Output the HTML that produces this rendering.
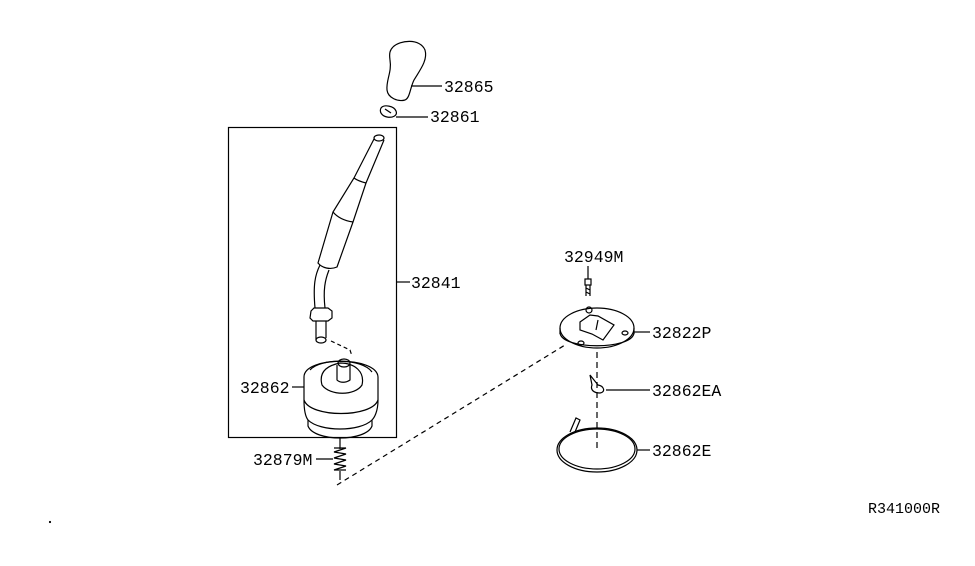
<!DOCTYPE html>
<html><head><meta charset="utf-8"><style>
html,body{margin:0;padding:0;background:#fff;}
svg{display:block}
text{font-family:"Liberation Mono",monospace;font-size:16.5px;fill:#000}
</style></head><body>
<svg width="975" height="566" viewBox="0 0 975 566" xmlns="http://www.w3.org/2000/svg" fill="none" stroke="#000" stroke-width="1.2">
<!-- knob -->
<path d="M393,47 C400,40 420,38 425,50 C428,60 420,70 414,80 C410,88 410,98 405,100 C398,102 388,98 387,90 C386,80 392,72 390,60 C389,53 390,50 393,47 Z"/>
<line x1="411" y1="86" x2="442" y2="86"/>
<text x="444" y="92" stroke="none">32865</text>
<!-- washer -->
<path d="M381,108 C384,104 394,106 396,111 C398,116 392,118 387,117 C382,116 379,112 381,108 Z"/>
<path d="M385,109 L391,113"/>
<line x1="396" y1="117" x2="428" y2="117"/>
<text x="430" y="122" stroke="none">32861</text>
<!-- box -->
<rect x="228.5" y="127.5" width="168" height="310"/>
<line x1="397" y1="282" x2="410" y2="282"/>
<text x="411" y="288" stroke="none">32841</text>
<!-- lever -->
<ellipse cx="379" cy="138" rx="5" ry="3"/>
<path d="M374,139 L354,178 L333,212 L318,263 C322,268 330,270 337,267 L353,222 L366,183 L384,140"/>
<path d="M354,178 C358,181 362,182 366,183"/>
<path d="M333,212 C338,218 346,221 353,222"/>
<path d="M320,265 C315,275 313,285 315,308 M329,270 C325,280 323,290 325,308"/>
<path d="M311,311 L314,308 L328,308 L332,311 L332,318 L328,321 L313,321 L310,318 Z"/>
<path d="M316,321 L316,340 M326,321 L326,338"/>
<ellipse cx="321" cy="340" rx="5" ry="3"/>
<path d="M331,341 L350,350 L352,356" stroke-dasharray="4,3"/>
<!-- boot -->
<path d="M304,377 C304,356 377,356 378,377 L378,400 C378,412 374,418 372,420 L372,426 C366,442 314,442 308,426 L308,420 C305,416 304,410 304,400 Z"/>
<path d="M304,400 C310,418 372,418 378,400"/>
<path d="M308,420 C320,432 360,432 372,420"/>
<path d="M310,370 C320,358 362,358 372,372"/>
<path d="M322,385 C318,370 330,365 340,363 C355,363 365,372 362,385 C355,396 330,396 322,385 Z"/>
<path d="M337,365 L337,380 C340,383 346,383 350,380 L350,365"/>
<ellipse cx="344" cy="363" rx="6" ry="4"/>
<line x1="292" y1="387" x2="304" y2="387"/>
<text x="240" y="393" stroke="none">32862</text>
<!-- spring -->
<line x1="340" y1="437" x2="340" y2="449"/>
<path d="M334,448 L346,448 L334,452 L346,454 L334,458 L346,460 L334,464 L346,466 L334,470 L346,470"/>
<line x1="340" y1="471" x2="340" y2="480"/>
<line x1="316" y1="459" x2="333" y2="459"/>
<text x="253" y="465" stroke="none">32879M</text>
<path d="M337,485 L565,345" stroke-dasharray="5,4"/>
<!-- bolt -->
<line x1="588" y1="266" x2="588" y2="279"/>
<rect x="585" y="279" width="6" height="6"/>
<path d="M586,285 L586,296 M590,285 L590,296 M586,288 L590,290 M586,292 L590,294"/>
<text x="564" y="262" stroke="none">32949M</text>
<!-- plate -->
<ellipse cx="597" cy="328" rx="37" ry="20"/>
<path d="M560,333 C562,350 632,350 634,333"/>
<line x1="560" y1="328" x2="560" y2="334"/><line x1="634" y1="328" x2="634" y2="334"/>
<circle cx="589" cy="310" r="3"/>
<path d="M580,322 L590,315 L598,316 L614,325 L603,340 L592,334 L580,330 Z"/>
<path d="M596,330 L598,320"/>
<ellipse cx="581" cy="343" rx="3" ry="2"/>
<ellipse cx="625" cy="333" rx="3" ry="2"/>
<line x1="634" y1="332" x2="650" y2="332"/>
<text x="652" y="338" stroke="none">32822P</text>
<line x1="597" y1="352" x2="597" y2="448" stroke-dasharray="6,4"/>
<!-- clip -->
<path d="M590,375 L598,385 C604,386 606,392 600,393 C594,393 590,390 592,385 Z"/>
<line x1="606" y1="390" x2="650" y2="390"/>
<text x="652" y="396" stroke="none">32862EA</text>
<!-- ring -->
<ellipse cx="597" cy="450" rx="40" ry="22"/>
<ellipse cx="597" cy="449" rx="38" ry="20"/>
<path d="M570,432 L576,418 L580,420 L575,432"/>
<line x1="637" y1="450" x2="650" y2="450"/>
<text x="652" y="456" stroke="none">32862E</text>
<text x="868" y="513" stroke="none" style="font-size:15px">R341000R</text>
<circle cx="50" cy="522" r="0.5" fill="#000"/>
</svg>
</body></html>
